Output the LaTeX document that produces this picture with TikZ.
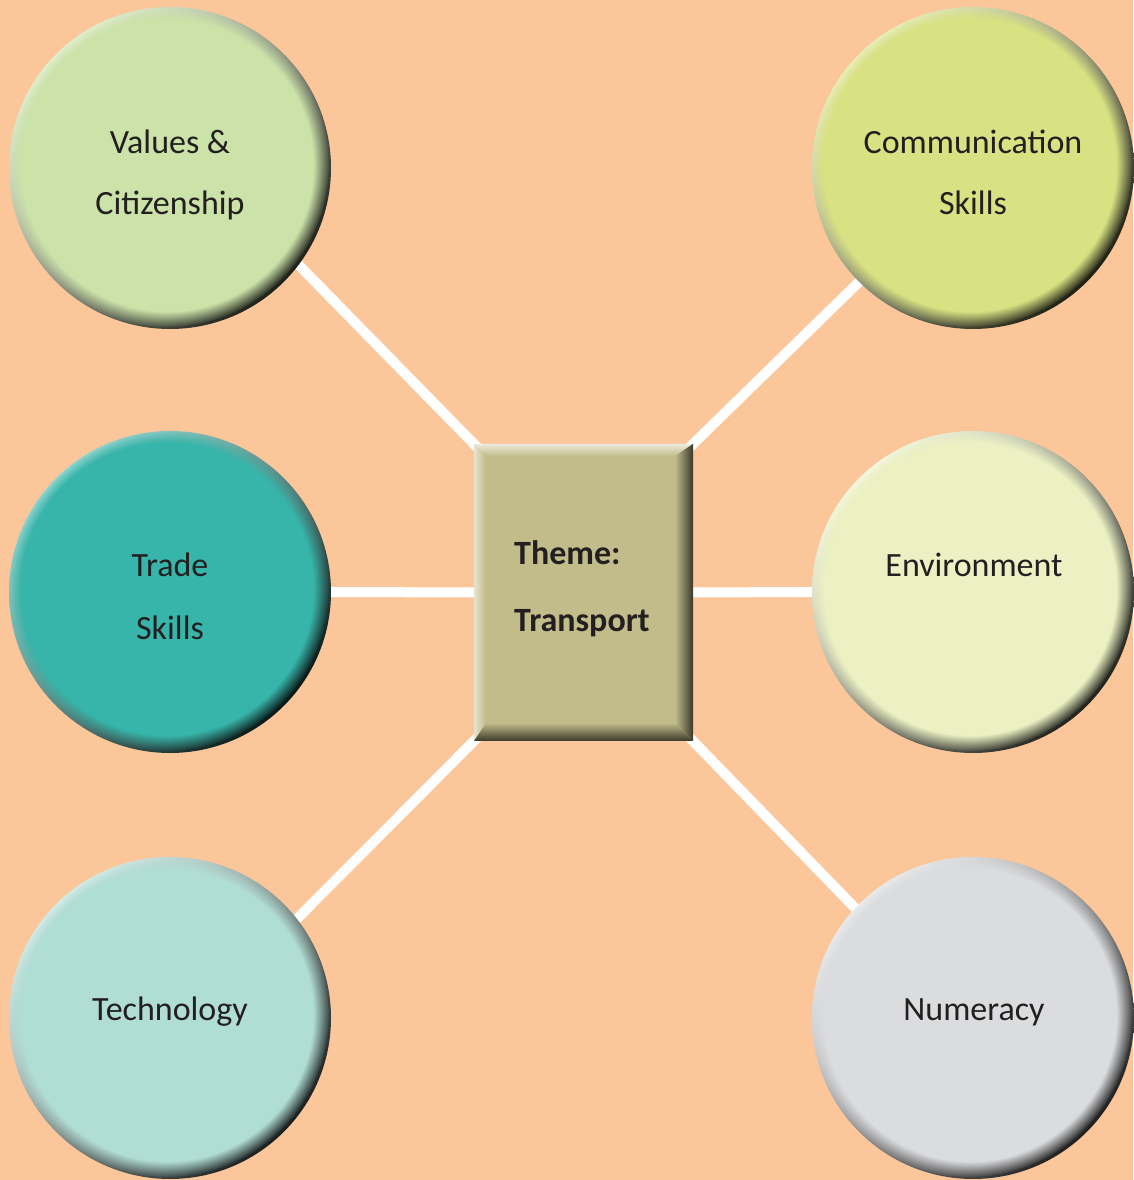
\documentclass[tikz,border=0pt]{standalone}
\usepackage{fontspec}
\setmainfont{Carlito}
\usetikzlibrary{calc,fadings}
\pgfdeclarelayer{bg}
\pgfdeclarelayer{bgl}
\pgfsetlayers{bg,bgl,main}
\definecolor{peach}{HTML}{FBC79A}
\definecolor{cval}{HTML}{CBE2A8}
\definecolor{ccom}{HTML}{D8E282}
\definecolor{ctra}{HTML}{37B5AA}
\definecolor{cenv}{HTML}{EBF1C2}
\definecolor{ctec}{HTML}{B0DDD4}
\definecolor{cnum}{HTML}{DBDCDE}
\definecolor{crec}{HTML}{C1BC8A}
\definecolor{ink}{HTML}{231F20}
\tikzset{
  bevelcirc/.style={circle, minimum size=322pt, inner sep=0pt, outer sep=0pt,
    path picture={
      \shade[top color=#1!35!white, middle color=#1, bottom color=#1!15!black, shading angle=45]
        (path picture bounding box.south west) rectangle (path picture bounding box.north east);
      \fill[#1, path fading=circle with fuzzy edge 10 percent]
        ([shift={(-3,3)}]path picture bounding box.center) circle (162pt);
    }},
  bevelrect/.style={rectangle, minimum width=219pt, minimum height=297pt, inner sep=0pt, outer sep=0pt,
    path picture={
      \coordinate (ppsw) at (path picture bounding box.south west);
      \coordinate (ppne) at (path picture bounding box.north east);
      \coordinate (ppnw) at (path picture bounding box.north west);
      \coordinate (ppse) at (path picture bounding box.south east);
      \fill[#1] (ppsw) rectangle (ppne);
      \shade[top color=#1!30!white, bottom color=#1]
        (ppnw) -- (ppne) -- ([shift={(-18,-12)}]ppne) -- ([shift={(12,-12)}]ppnw) -- cycle;
      \shade[left color=#1!40!white, right color=#1]
        (ppnw) -- ([shift={(12,-12)}]ppnw) -- ([shift={(12,18)}]ppsw) -- (ppsw) -- cycle;
      \shade[left color=#1, right color=#1!30!black]
        (ppne) -- (ppse) -- ([shift={(-18,18)}]ppse) -- ([shift={(-18,-12)}]ppne) -- cycle;
      \shade[top color=#1, bottom color=#1!30!black]
        (ppsw) -- ([shift={(12,18)}]ppsw) -- ([shift={(-18,18)}]ppse) -- (ppse) -- cycle;
    }},
  lbl/.style={anchor=base, inner sep=0pt, text=ink, font=\fontsize{34}{40}\selectfont},
  blbl/.style={anchor=base west, inner sep=0pt, text=ink, font=\fontsize{34}{40}\selectfont\bfseries},
  link/.style={draw=white, line width=10pt, shorten <=-12pt, shorten >=-12pt}
}
\begin{document}
\begin{tikzpicture}[x=1pt,y=1pt]
\begin{pgfonlayer}{bg}
\fill[peach] (0,0) rectangle (1133,1180);
\end{pgfonlayer}
\useasboundingbox (0,0) rectangle (1133,1180);

\node[bevelcirc=cval] (vc) at (170,1012) {};
\node[bevelcirc=ccom] (cs) at (973,1012) {};
\node[bevelcirc=ctra] (ts) at (170,588) {};
\node[bevelcirc=cenv] (en) at (973,588) {};
\node[bevelcirc=ctec] (te) at (170,162) {};
\node[bevelcirc=cnum] (nu) at (973,162) {};
\node[bevelrect=crec] (th) at (583.5,587.5) {};

\begin{pgfonlayer}{bgl}
\draw[link] (th.north west) -- (vc.-37);
\draw[link] (th.north east) -- (cs.225);
\draw[link] (th.west) -- (ts.east);
\draw[link] (th.east) -- (en.west);
\draw[link] (th.south west) -- (te.38);
\draw[link] (th.south east) -- (nu.137);
\end{pgfonlayer}

\node[lbl] (vc1) at (170,1026) {Values \&};
\node[lbl] (vc2) at (170,965) {Citizenship};
\node[lbl] (cs1) at (973,1026) {Communication};
\node[lbl] (cs2) at (973,965) {Skills};
\node[lbl] (ts1) at (170,603) {Trade};
\node[lbl] (ts2) at (170,540) {Skills};
\node[lbl] (en1) at (974,603) {Environment};
\node[lbl] (te1) at (170,159) {Technology};
\node[lbl] (nu1) at (974,159) {Numeracy};
\node[blbl] (th1) at (514,615) {Theme:};
\node[blbl] (th2) at (514,548) {Transport};
\end{tikzpicture}
\end{document}
